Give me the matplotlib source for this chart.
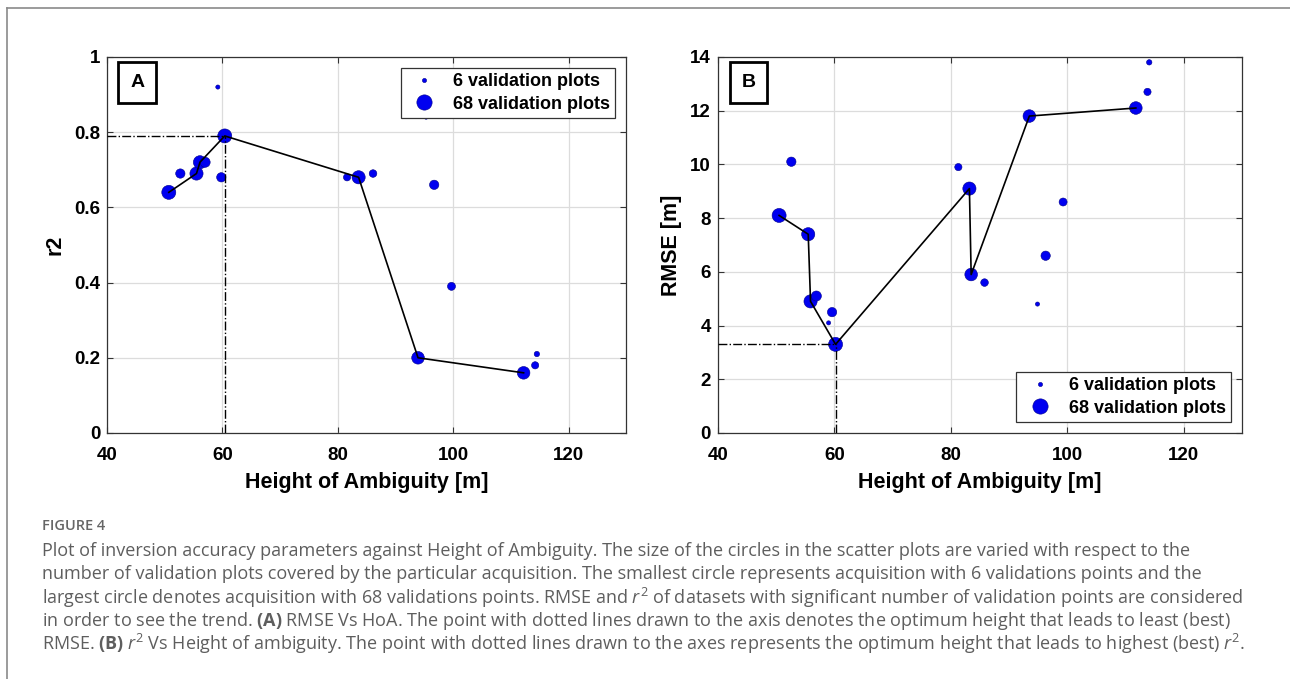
import matplotlib.pyplot as plt
from matplotlib.lines import Line2D

# panel A: r2 vs height of ambiguity
hoa_a = [59.2, 60.4, 50.7, 52.7, 55.5, 56.1, 57.0, 59.8, 81.6, 83.6, 86.1,
         95.3, 96.7, 99.7, 93.9, 112.2, 114.2, 114.5]
r2_a = [0.92, 0.79, 0.64, 0.69, 0.69, 0.72, 0.72, 0.68, 0.68, 0.68, 0.69,
        0.84, 0.66, 0.39, 0.20, 0.16, 0.18, 0.21]
n_a = [6, 68, 68, 30, 60, 60, 35, 30, 18, 60, 20, 6, 30, 22, 55, 55, 18, 10]

trend_hoa_a = [50.7, 55.5, 56.1, 60.4, 83.6, 93.9, 112.2]
trend_r2_a = [0.64, 0.69, 0.72, 0.79, 0.68, 0.20, 0.16]
best_a = (60.4, 0.79)

# panel B: RMSE vs height of ambiguity
hoa_b = [52.6, 50.5, 55.5, 55.9, 56.9, 59.6, 59.0, 60.2, 81.3, 83.2, 83.5,
         85.8, 93.5, 94.9, 96.3, 99.3, 111.8, 113.8, 114.1]
rmse_b = [10.1, 8.1, 7.4, 4.9, 5.1, 4.5, 4.1, 3.3, 9.9, 9.1, 5.9,
          5.6, 11.8, 4.8, 6.6, 8.6, 12.1, 12.7, 13.8]
n_b = [30, 68, 60, 60, 35, 30, 6, 68, 18, 60, 55, 20, 55, 6, 30, 22, 55, 18, 10]

trend_hoa_b = [50.5, 55.5, 55.9, 60.2, 83.2, 83.5, 93.5, 111.8]
trend_rmse_b = [8.1, 7.4, 4.9, 3.3, 9.1, 5.9, 11.8, 12.1]
best_b = (60.2, 3.3)

x_ticks = [40, 60, 80, 100, 120]

caption_lines = [
    "Plot of inversion accuracy parameters against Height of Ambiguity. The size of the circles in the scatter plots are varied with respect to the",
    "number of validation plots covered by the particular acquisition. The smallest circle represents acquisition with 6 validations points and the",
    r"largest circle denotes acquisition with 68 validations points. RMSE and $r^2$ of datasets with significant number of validation points are considered",
    r"in order to see the trend. $\mathbf{(A)}$ RMSE Vs HoA. The point with dotted lines drawn to the axis denotes the optimum height that leads to least (best)",
    r"RMSE. $\mathbf{(B)}$ $r^2$ Vs Height of ambiguity. The point with dotted lines drawn to the axes represents the optimum height that leads to highest (best) $r^2$.",
]

plt.rcParams["font.family"] = ["Liberation Sans", "DejaVu Sans"]
plt.rcParams["mathtext.fontset"] = "custom"
plt.rcParams["mathtext.rm"] = "Open Sans"
plt.rcParams["mathtext.it"] = "Open Sans:italic"
plt.rcParams["mathtext.bf"] = "Open Sans:bold"

BLUE = "#0000f0"
SCALE = 1.5

fig = plt.figure(figsize=(12.9, 6.79), dpi=100)
ax_a = fig.add_axes([0.083, 0.3623, 0.4025, 0.5538])
ax_b = fig.add_axes([0.5566, 0.3623, 0.406, 0.5538])


def style_axes(ax, ylim, yticks, yticklabels, ylabel):
    ax.set_xlim(40, 130)
    ax.set_ylim(*ylim)
    ax.set_xticks(x_ticks)
    ax.set_yticks(yticks)
    ax.set_yticklabels(yticklabels)
    ax.grid(True, color="#dcdcdc", lw=0.9)
    ax.set_axisbelow(True)
    ax.tick_params(direction="in", top=True, right=True, length=4, width=0.8,
                   color="#333333", labelsize=13.5, pad=5)
    ax.tick_params(axis="x", pad=10)
    for lab in ax.get_xticklabels() + ax.get_yticklabels():
        lab.set_fontweight("bold")
    for sp in ax.spines.values():
        sp.set_color("#333333")
        sp.set_linewidth(0.9)
    ax.set_xlabel("Height of Ambiguity [m]", fontsize=15.5, fontweight="bold", labelpad=6)
    ax.set_ylabel(ylabel, fontsize=15.5, fontweight="bold", labelpad=6)


def legend_handles():
    return [
        Line2D([], [], ls="none", marker="o", markersize=3, color=BLUE,
               markeredgecolor="#00008b", markeredgewidth=0.4, label="6 validation plots"),
        Line2D([], [], ls="none", marker="o", markersize=11, color=BLUE,
               markeredgecolor="#00008b", markeredgewidth=0.4, label="68 validation plots"),
    ]


# panel A
ax_a.scatter(hoa_a, r2_a, s=[SCALE * n for n in n_a], color=BLUE,
             edgecolors="#00008b", linewidths=0.4, zorder=2)
ax_a.plot(trend_hoa_a, trend_r2_a, color="black", lw=1.2, zorder=3)
ax_a.plot([40, best_a[0]], [best_a[1], best_a[1]], color="black", ls="-.", lw=1.0, zorder=3)
ax_a.plot([best_a[0], best_a[0]], [0, best_a[1]], color="black", ls="-.", lw=1.0, zorder=3)
style_axes(ax_a, (0, 1), [0, 0.2, 0.4, 0.6, 0.8, 1], ["0", "0.2", "0.4", "0.6", "0.8", "1"], "r2")
leg = ax_a.legend(handles=legend_handles(), loc="upper right",
                  prop={"weight": "bold", "size": 13}, fancybox=False,
                  edgecolor="#333333", framealpha=1, borderaxespad=0.6,
                  handletextpad=0.6, borderpad=0.3, labelspacing=0.3)
leg.get_frame().set_linewidth(0.9)

# panel B
ax_b.scatter(hoa_b, rmse_b, s=[SCALE * n for n in n_b], color=BLUE,
             edgecolors="#00008b", linewidths=0.4, zorder=2)
ax_b.plot(trend_hoa_b, trend_rmse_b, color="black", lw=1.2, zorder=3)
ax_b.plot([40, best_b[0]], [best_b[1], best_b[1]], color="black", ls="-.", lw=1.0, zorder=3)
ax_b.plot([best_b[0], best_b[0]], [0, best_b[1]], color="black", ls="-.", lw=1.0, zorder=3)
style_axes(ax_b, (0, 14), list(range(0, 15, 2)), [str(v) for v in range(0, 15, 2)], "RMSE [m]")
leg = ax_b.legend(handles=legend_handles(), loc="lower right",
                  prop={"weight": "bold", "size": 13}, fancybox=False,
                  edgecolor="#333333", framealpha=1, borderaxespad=0.6,
                  handletextpad=0.6, borderpad=0.3, labelspacing=0.3)
leg.get_frame().set_linewidth(0.9)

# panel letters
for ax, letter in [(ax_a, "A"), (ax_b, "B")]:
    ax.text(0.058, 0.932, letter, transform=ax.transAxes, fontsize=14,
            fontweight="bold", ha="center", va="center", zorder=5,
            bbox=dict(boxstyle="square,pad=0.6", fc="white", ec="black", lw=2))

# frame around figure
fig.add_artist(Line2D([7 / 1290, 7 / 1290], [0, 1 - 8 / 679], transform=fig.transFigure,
                      color="#8a8a8a", lw=1.2))
fig.add_artist(Line2D([7 / 1290, 1], [1 - 8 / 679, 1 - 8 / 679], transform=fig.transFigure,
                      color="#8a8a8a", lw=1.2))

# caption
fig.text(42 / 1290, 1 - 526 / 679, "FIGURE 4", fontsize=10.5, color="#666666",
         family="Open Sans", fontweight="semibold", va="center")
for i, line in enumerate(caption_lines):
    y = 551 + i * 23.3
    fig.text(42 / 1290, 1 - y / 679, line, fontsize=13, color="#5e5e5e",
             family="Open Sans", va="center")

fig.savefig("out.png", dpi=100)
